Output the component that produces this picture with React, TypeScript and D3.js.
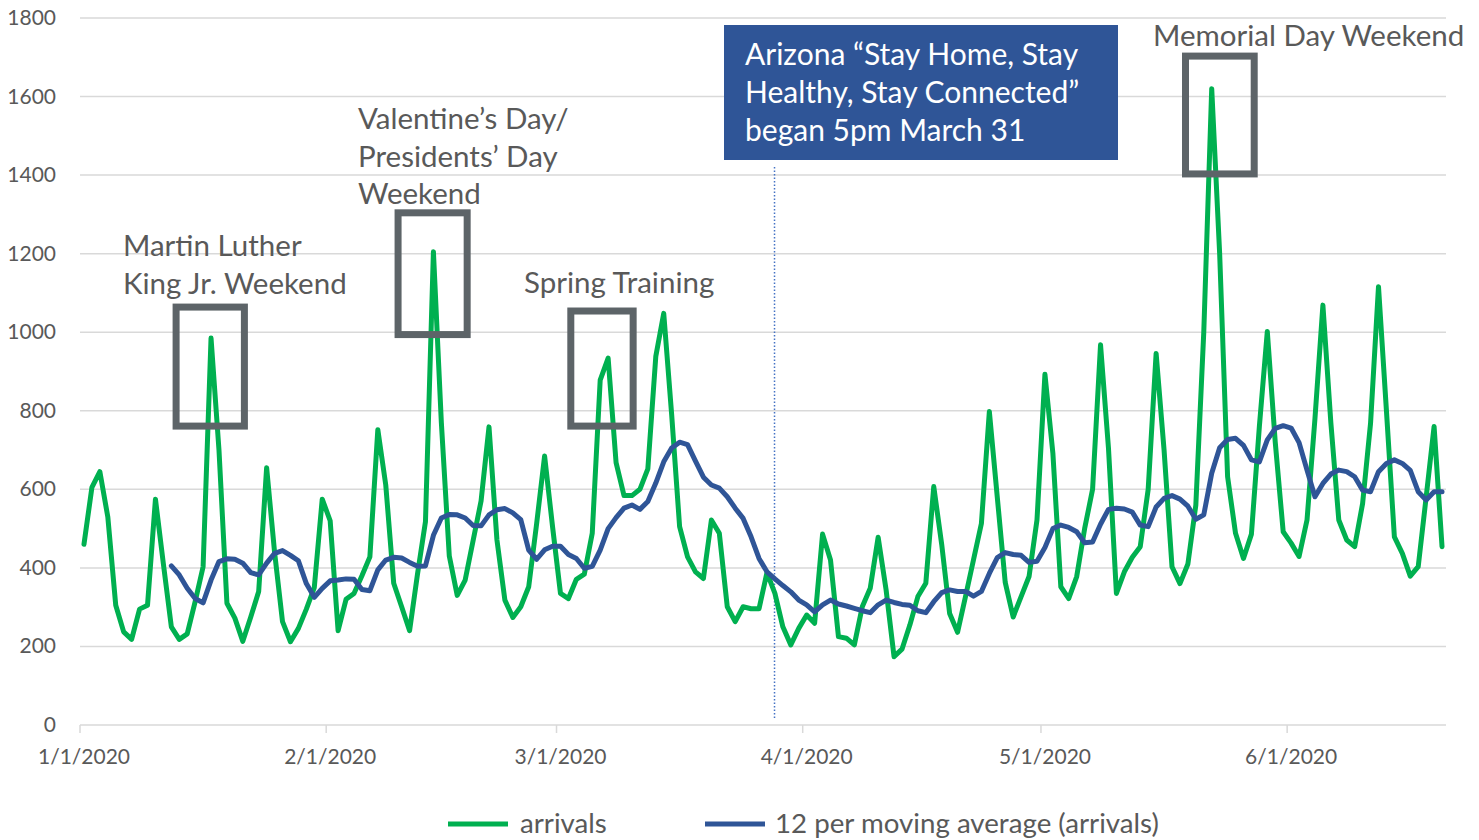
import React, { useEffect } from "react";
import * as d3 from "d3";

// daily arrivals, 1/1/2020 .. 6/20/2020
const arrivals = [
  460, 605, 645, 530, 305, 237, 218, 295, 305, 575,
  410, 250, 218, 232, 314, 403, 985, 700, 310, 272,
  213, 275, 340, 655, 440, 263, 212, 246, 295, 350,
  575, 520, 240, 320, 335, 380, 428, 752, 611, 361,
  301, 240, 385, 518, 1205, 770, 430, 330, 369, 470,
  570, 759, 471, 318, 274, 301, 352, 513, 685, 505,
  335, 322, 371, 384, 488, 878, 934, 668, 584, 584,
  600, 652, 938, 1048, 790, 505, 428, 390, 373, 522,
  488, 301, 263, 301, 296, 296, 388, 335, 250, 204,
  246, 280, 259, 486, 420, 225, 221, 204, 301, 348,
  478, 344, 174, 193, 255, 327, 361, 607, 460, 284,
  236, 327, 420, 513, 798, 580, 363, 275, 327, 378,
  522, 893, 692, 352, 322, 378, 500, 600, 968, 705,
  335, 390, 427, 454, 600, 946, 700, 403, 360, 410,
  560, 1000, 1620, 1200, 632, 488, 424, 486, 760, 1002,
  720, 492, 463, 429, 522, 780, 1069, 770, 522, 471,
  454, 564, 768, 1116, 800, 479, 437, 379, 403, 580,
  760, 454,
];

// 12 period moving average, first value is on day index 11 (1/12/2020)
const maStart = 11;
const movingAvg = [
  405, 382, 348, 322, 311, 369, 416, 423, 422, 412,
  388, 382, 412, 437, 444, 432, 418, 360, 325, 348,
  367, 369, 372, 371, 345, 342, 395, 420, 427, 425,
  414, 404, 405, 483, 527, 536, 535, 527, 508, 507,
  535, 548, 551, 540, 523, 445, 422, 446, 455, 455,
  434, 424, 399, 404, 445, 500, 528, 552, 560, 549,
  569, 616, 670, 705, 720, 714, 672, 631, 611, 603,
  581, 552, 526, 479, 424, 390, 372, 355, 339, 318,
  306, 288, 306, 318, 308, 303, 297, 291, 286, 306,
  318, 312, 307, 305, 291, 286, 314, 337, 344, 340,
  340, 328, 340, 386, 426, 439, 434, 432, 414, 417,
  452, 500, 509, 503, 492, 464, 466, 511, 549, 552,
  550, 542, 509, 505, 555, 577, 584, 575, 557, 524,
  535, 641, 706, 727, 730, 712, 675, 670, 726, 755,
  762, 756, 719, 649, 581, 615, 639, 649, 645, 632,
  598, 594, 645, 666, 675, 666, 648, 594, 573, 594,
  594,
];

const yTicks = [0, 200, 400, 600, 800, 1000, 1200, 1400, 1600, 1800];
const monthTicks = [0, 1, 2, 3, 4, 5]; // months of 2020 with a labelled tick
const seriesNames = ["arrivals", "12 per moving average (arrivals)"];

const W = 1479;
const H = 840;
const FONT = "Lato, 'Open Sans', sans-serif";
const GREEN = "#00b050";
const BLUE = "#2f5597";
const GREY_TEXT = "#595959";

const T0 = Date.UTC(2020, 0, 1);
const DAY = 86400000;
// day index -> date (fractional days allowed), points sit mid-day
const day = (i: number, off = 0.5) => new Date(T0 + (i + off) * DAY);

export default function App() {
  useEffect(() => {
    document.body.style.margin = "0";
  }, []);

  const x = d3
    .scaleUtc()
    .domain([new Date(T0), new Date(Date.UTC(2020, 5, 21))])
    .range([80, 1446]);
  const y = d3.scaleLinear().domain([0, 1800]).range([725, 18]);

  const line = d3
    .line<[Date, number]>()
    .x((d) => x(d[0]))
    .y((d) => y(d[1]));

  const arrPath = line(arrivals.map((v, i) => [day(i), v]));
  const maPath = line(movingAvg.map((v, i) => [day(i + maStart), v]));

  const fmt = d3.utcFormat("%-m/%-d/%Y");

  // callout boxes, in data space: [from day, to day, low, high]
  const boxes = [
    [12.1, 20.7, 761, 1064],
    [40.05, 48.75, 994, 1304],
    [61.8, 69.65, 761, 1054],
    [139.2, 147.85, 1403, 1703],
  ];
  const stayHome = day(87.45, 0);

  return (
    <div style={{ position: "absolute", left: 0, top: 0 }}>
      <svg width={W} height={H} style={{ display: "block", background: "#fff" }} fontFamily={FONT}>
        {yTicks.map((t) => (
          <g key={t}>
            <line x1={80} x2={1446} y1={y(t)} y2={y(t)} stroke="#d9d9d9" strokeWidth={1.5} />
            <text x={56} y={y(t) + 7} textAnchor="end" fontSize={21} fill={GREY_TEXT}>
              {t}
            </text>
          </g>
        ))}
        {monthTicks.map((m) => {
          const d = new Date(Date.UTC(2020, m, 1));
          return (
            <g key={m}>
              <line x1={x(d)} x2={x(d)} y1={y(0)} y2={y(0) + 8} stroke="#d9d9d9" strokeWidth={1.5} />
              <text x={x(d) + 4} y={764} textAnchor="middle" fontSize={21} fill={GREY_TEXT}>
                {fmt(d)}
              </text>
            </g>
          );
        })}

        <line
          x1={x(stayHome)}
          x2={x(stayHome)}
          y1={167}
          y2={718}
          stroke="#4472c4"
          strokeWidth={1.5}
          strokeDasharray="1.5 2"
        />

        <path d={arrPath ?? ""} fill="none" stroke={GREEN} strokeWidth={5} strokeLinejoin="round" strokeLinecap="round" />
        <path d={maPath ?? ""} fill="none" stroke={BLUE} strokeWidth={5} strokeLinejoin="round" strokeLinecap="round" />

        {boxes.map(([a, b, lo, hi], i) => (
          <rect
            key={i}
            x={x(day(a, 0))}
            y={y(hi)}
            width={x(day(b, 0)) - x(day(a, 0))}
            height={y(lo) - y(hi)}
            fill="none"
            stroke="#5d6468"
            strokeWidth={7}
          />
        ))}

        <g fontSize={29.5} fill={GREY_TEXT}>
          <text x={123} y={256}>Martin Luther</text>
          <text x={123} y={294}>King Jr. Weekend</text>
          <text x={358} y={129}>Valentine’s Day/</text>
          <text x={358} y={167}>Presidents’ Day</text>
          <text x={358} y={204}>Weekend</text>
          <text x={524} y={293}>Spring Training</text>
          <text x={1153} y={46}>Memorial Day Weekend</text>
        </g>

        <rect x={724} y={25} width={394} height={135} fill={BLUE} />
        <g fontSize={30} fill="#fff">
          <text x={745} y={65}>Arizona “Stay Home, Stay</text>
          <text x={745} y={103}>Healthy, Stay Connected”</text>
          <text x={745} y={141}>began 5pm March 31</text>
        </g>

        <g fontSize={27.7} fill={GREY_TEXT}>
          <line x1={448} x2={508} y1={824} y2={824} stroke={GREEN} strokeWidth={5} />
          <text x={520} y={833}>{seriesNames[0]}</text>
          <line x1={705} x2={765} y1={824} y2={824} stroke={BLUE} strokeWidth={5} />
          <text x={775} y={833}>{seriesNames[1]}</text>
        </g>
      </svg>
    </div>
  );
}
